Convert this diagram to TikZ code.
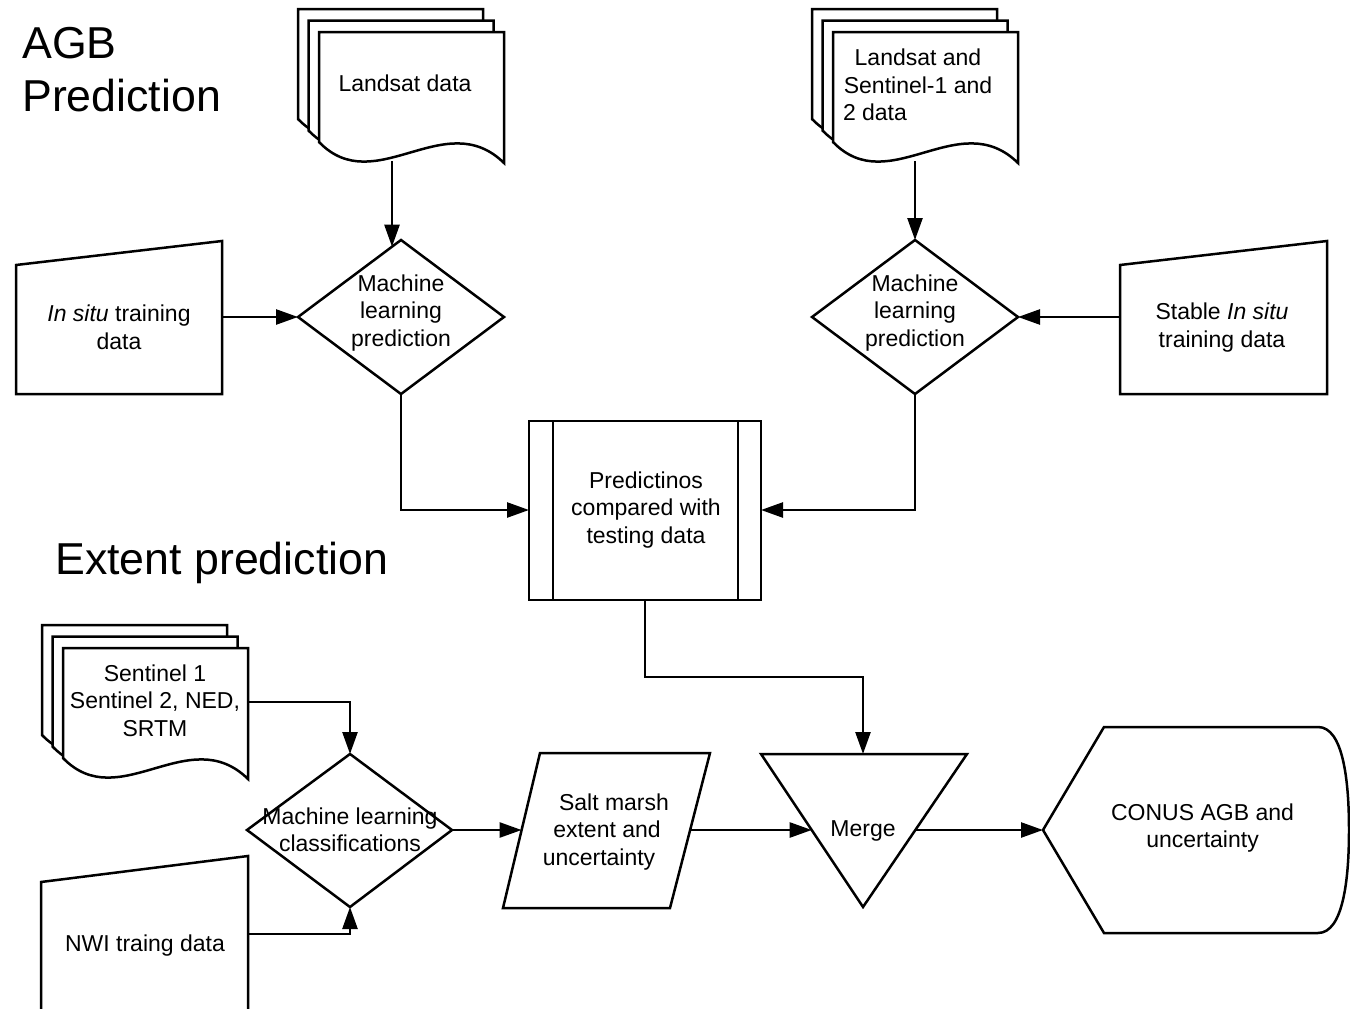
\documentclass[tikz,border=0pt]{standalone}
\usepackage{fontspec}
\setmainfont{Liberation Sans}
\usetikzlibrary{arrows.meta}
\tikzset{
  shapeline/.style={draw=black, line width=2.5pt, fill=white},
  lbl/.style={font=\fontsize{23}{27.5}\selectfont, align=center, inner sep=0pt},
  ttl/.style={font=\fontsize{44.7}{53}\selectfont, inner sep=0pt, anchor=base west},
  arr/.style={draw=black, line width=2.5pt, -{Triangle[length=22pt,width=15pt]}},
  conn/.style={draw=black, line width=2.5pt},
  docstack/.pic={
    \foreach \dx/\dy in {-21/-23,-10.5/-11.5,0/0}{
      \filldraw[shapeline, shift={(\dx,\dy)}] (0,0) -- (185,0) -- (185,131)
        .. controls (126,73) and (56,168) .. (0,110) -- cycle;
    }
  }
}
\begin{document}
\begin{tikzpicture}[x=1pt,y=-1pt]
\fill[white] (0,0) rectangle (1350,1009);
\useasboundingbox (0,0) rectangle (1350,1009);

% titles
\node[ttl] (t1) at (22,58) {AGB};
\node[ttl] (t2) at (22,111) {Prediction};
\node[ttl] (t3) at (55,574) {Extent prediction};

% document stacks
\pic at (319,32) {docstack};
\pic at (833,32) {docstack};
\pic at (63,648) {docstack};
\node[lbl] (ls1) at (405,83) {Landsat data};
\node[lbl] (ls2) at (918,85) {Landsat and\\Sentinel-1 and\\\makebox[150pt][l]{2 data}};
\node[lbl] (sen) at (155,700.5) {Sentinel 1\\Sentinel 2, NED,\\SRTM};
\coordinate (ls1-s) at (392,161);
\coordinate (ls2-s) at (915,161);
\coordinate (sen-e) at (248,702);

% manual inputs
\filldraw[shapeline] (16,265) -- (222,241) -- (222,394) -- (16,394) -- cycle;
\node[lbl] (insitu) at (119,327.5) {\textit{In situ} training\\data};
\coordinate (insitu-e) at (222,317);
\filldraw[shapeline] (1120,265) -- (1327,241) -- (1327,394) -- (1120,394) -- cycle;
\node[lbl] (stable) at (1222,327.5) {Stable \textit{In situ}\\training data};
\coordinate (stable-w) at (1120,317);
\filldraw[shapeline] (41,882) -- (248,856) -- (248,1030) -- (41,1030) -- cycle;
\node[lbl] (nwi) at (145,946) {NWI traing data};
\coordinate (nwi-e) at (248,934);

% decisions
\filldraw[shapeline] (298,317) -- (401,240) -- (504,317) -- (401,394) -- cycle;
\node[lbl] (ml1) at (401,313) {Machine\\learning\\prediction};
\coordinate (ml1-w) at (298,317);
\coordinate (ml1-n) at (392,246.7);
\coordinate (ml1-s) at (401,394);
\filldraw[shapeline] (812,317) -- (915,240) -- (1018,317) -- (915,394) -- cycle;
\node[lbl] (ml2) at (915,313) {Machine\\learning\\prediction};
\coordinate (ml2-e) at (1018,317);
\coordinate (ml2-n) at (915,240);
\coordinate (ml2-s) at (915,394);
\filldraw[shapeline] (247,830) -- (350,754) -- (452,830) -- (350,907) -- cycle;
\node[lbl] (mlc) at (350,830) {Machine learning\\classifications};
\coordinate (mlc-n) at (350,754);
\coordinate (mlc-s) at (350,907);
\coordinate (mlc-e) at (452,830);

% predefined process
\filldraw[shapeline] (529,421) rectangle (761,600);
\draw[conn] (553,421) -- (553,600) (738,421) -- (738,600);
\node[lbl] (pred) at (646,510) {Predictinos\\compared with\\testing data};
\coordinate (pred-w) at (529,510);
\coordinate (pred-e) at (761,510);
\coordinate (pred-s) at (645,600);

% salt marsh parallelogram
\filldraw[shapeline] (540,753) -- (710,753) -- (670,908) -- (503,908) -- cycle;
\node[lbl] (salt) at (607,832) {\rule{14pt}{0pt}Salt marsh\\extent and\\uncertainty\rule{16pt}{0pt}};
\coordinate (salt-w) at (521.6,830);
\coordinate (salt-e) at (690,830);

% merge
\filldraw[shapeline] (761,754) -- (967,754) -- (863,907) -- cycle;
\node[lbl] (merge) at (863,831) {Merge};
\coordinate (merge-n) at (863,754);
\coordinate (merge-w) at (811.7,830);
\coordinate (merge-e) at (916.3,830);

% display
\filldraw[shapeline] (1043,830) -- (1104,727) -- (1318,727)
  .. controls (1343,727) and (1349,780) .. (1349,830)
  .. controls (1349,880) and (1343,933) .. (1318,933)
  -- (1104,933) -- cycle;
\node[lbl] (conus) at (1202.5,828) {CONUS AGB and\\uncertainty};
\coordinate (conus-w) at (1043,830);

% connectors
\draw[arr] (ls1-s) -- (ml1-n);
\draw[arr] (insitu-e) -- (ml1-w);
\draw[arr] (ml1-s) |- (pred-w);
\draw[arr] (ls2-s) -- (ml2-n);
\draw[arr] (stable-w) -- (ml2-e);
\draw[arr] (ml2-s) |- (pred-e);
\draw[arr] (pred-s) -- ++(0,77) -| (merge-n);
\draw[arr] (sen-e) -| (mlc-n);
\draw[arr] (nwi-e) -| (mlc-s);
\draw[arr] (mlc-e) -- (salt-w);
\draw[arr] (salt-e) -- (merge-w);
\draw[arr] (merge-e) -- (conus-w);
\end{tikzpicture}
\end{document}
